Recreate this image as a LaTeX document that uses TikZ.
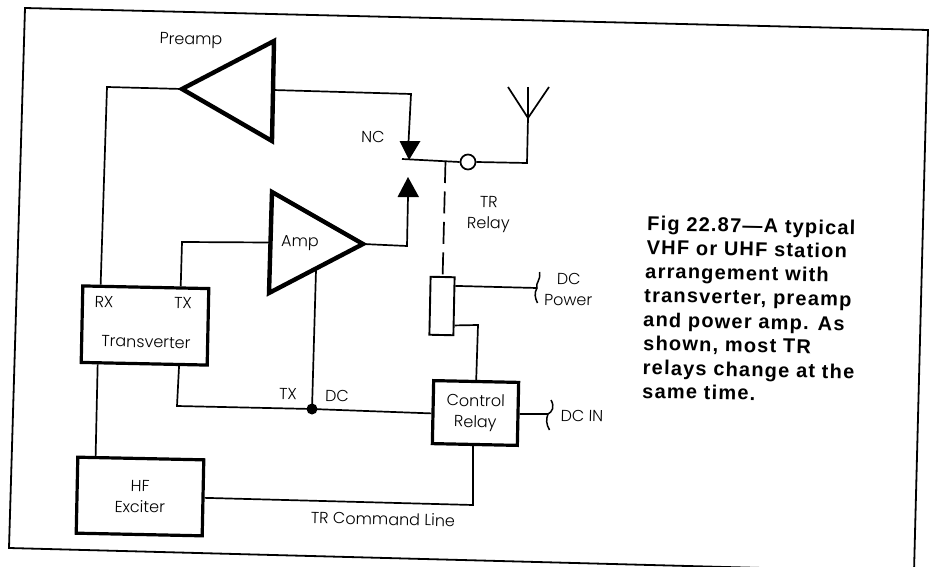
\documentclass[tikz,border=0pt]{standalone}
\usepackage{fontspec}
\usetikzlibrary{calc}
\setmainfont[UprightFont=* Light]{Poppins}
\newfontfamily\capfont[LetterSpace=6]{Liberation Sans Bold}
\tikzset{
  thinline/.style={line width=1.7pt,line join=miter},
  box/.style={draw=black,line width=3.2pt,rectangle,inner sep=0pt,align=center,rotate=-1.2,font=\fontsize{16}{21}\selectfont},
  relaybox/.style={draw=black,line width=1.9pt,rectangle,inner sep=0pt,rotate=-1.2},
  amptri/.style={draw=black,line width=4.4pt,line join=miter,miter limit=6},
  arrowhead/.style={fill=black,draw=none},
  lab/.style={inner sep=0pt,align=center,rotate=-1.2,font=\fontsize{16}{21}\selectfont},
  capline/.style={inner sep=0pt,anchor=base west,rotate=-1.2,font=\capfont\fontsize{20}{24}\selectfont},
  brace/.style={line width=1.5pt},
  frameline/.style={line width=1.8pt,line join=miter}
}
\begin{document}
\begin{tikzpicture}[x=1pt,y=-1pt]
\useasboundingbox (0,0) rectangle (931,567);
% frame
\coordinate (fTL) at (25,8);
\coordinate (fTR) at (928,30);
\coordinate (fBR) at (914,572);
\coordinate (fBL) at (9,548);
\draw[frameline] (fBR) -- (fTR) -- (fTL) -- (fBL) -- (fBR);

% boxes
\node[box,minimum width=126pt,minimum height=76.5pt] (tv) at (145,325.5) {};
\node[box,minimum width=126pt,minimum height=76pt] (hf) at (140,496.5) {HF\\Exciter};
\node[box,minimum width=85pt,minimum height=63pt] (cr) at (475.5,413) {Control\\Relay};
\node[relaybox,minimum width=24pt,minimum height=58pt] (tr) at (442,306) {};

% triangles
\coordinate (paT) at (182,89);
\coordinate (paU) at (274,41);
\coordinate (paL) at (272,141);
\draw[amptri] (paT) -- (paU) -- (paL) -- cycle;
\coordinate (amT) at (363,244);
\coordinate (amU) at (272,192);
\coordinate (amL) at (269,293);
\draw[amptri] (amT) -- (amU) -- (amL) -- cycle;

% relay contacts
\coordinate (nT) at (409,160);
\coordinate (nL) at (399.5,141);
\coordinate (nR) at (420.5,141);
\fill[arrowhead] (nT) -- (nL) -- (nR) -- cycle;
\coordinate (oT) at (408,177);
\coordinate (oL) at (397.5,197);
\coordinate (oR) at (419,197);
\fill[arrowhead] (oT) -- (oL) -- (oR) -- cycle;
\node[circle,draw=black,line width=1.7pt,fill=white,minimum size=15pt,inner sep=0pt] (pivot) at (468,162) {};

% preamp connectors
\coordinate (a1) at (107,87);
\coordinate (a2) at ($(tv.north west)!.15!(tv.north east)$);
\draw[thinline] (paT) -- (a1) -- (a2);
\coordinate (b1) at ($(paU)!.49!(paL)$);
\coordinate (b2) at (411,94);
\coordinate (b3) at (408.5,142);
\draw[thinline] (b1) -- (b2) -- (b3);
% contact and antenna
\coordinate (c0) at (402,159);
\coordinate (c1) at (445.5,161);
\draw[thinline] (c0) -- (pivot.west);
\coordinate (c2) at (527,163);
\coordinate (ant) at (528,118);
\draw[thinline] (pivot.east) -- (c2) -- (ant);
\coordinate (ant1) at (508,87);
\coordinate (ant2) at (528,87);
\coordinate (ant3) at (549,87);
\draw[thinline] (ant1) -- (ant) -- (ant3);
\draw[thinline] (ant2) -- (ant);
% dashed mechanical link
\draw[thinline,dash pattern=on 22pt off 8.5pt] (c1) -- (tr.north);
% amp connectors
\coordinate (d1) at (407,246);
\coordinate (d2) at (408,196);
\draw[thinline] (amT) -- (d1) -- (d2);
\coordinate (e1) at ($(amU)!.5!(amL)$);
\coordinate (e2) at (182,242);
\coordinate (e3) at ($(tv.north west)!.77!(tv.north east)$);
\draw[thinline] (e1) -- (e2) -- (e3);
% transverter connectors
\coordinate (f1) at ($(tv.south west)!.14!(tv.south east)$);
\coordinate (f2) at ($(hf.north west)!.15!(hf.north east)$);
\draw[thinline] (f1) -- (f2);
\coordinate (g1) at ($(tv.south west)!.77!(tv.south east)$);
\coordinate (g2) at (177,406);
\node[circle,fill=black,minimum size=11pt,inner sep=0pt] (dot) at (312,409) {};
\coordinate (g3) at ($(cr.north west)!.52!(cr.south west)$);
\draw[thinline] (g1) -- (g2) -- (dot.center) -- (g3);
\coordinate (h1) at (316,270);
\draw[thinline] (h1) -- (dot.center);
% control relay connectors
\coordinate (i1) at ($(cr.north west)!.5!(cr.north east)$);
\coordinate (i2) at (478,325);
\coordinate (i3) at ($(tr.north east)!.82!(tr.south east)$);
\draw[thinline] (i1) -- (i2) -- (i3);
\coordinate (j1) at ($(cr.south west)!.48!(cr.south east)$);
\coordinate (j2) at (473,505);
\coordinate (j3) at ($(hf.north east)!.5!(hf.south east)$);
\draw[thinline] (j1) -- (j2) -- (j3);
% DC power
\coordinate (k1) at ($(tr.north east)!.16!(tr.south east)$);
\coordinate (k2) at (537,288);
\draw[thinline] (k1) -- (k2);
\coordinate (k3) at (539.5,272);
\coordinate (k4) at (537.5,303);
\draw[brace] (k3) .. controls (541,281) and (535,283) .. (k2) .. controls (534,293) and (535,298) .. (k4);
% DC in
\coordinate (m1) at ($(cr.north east)!.5!(cr.south east)$);
\coordinate (m2) at (548,414);
\draw[thinline] (m1) -- (m2);
\coordinate (m3) at (551,400);
\coordinate (m4) at (549.5,430);
\draw[brace] (m3) .. controls (555,407) and (552,412) .. (m2) .. controls (546,419) and (546,424) .. (m4);

% labels
\node[lab] (lpre) at (191,41) {Preamp};
\node[lab] (lnc) at (373,137) {NC};
\node[lab] (ltr) at (488.5,214.5) {TR\\Relay};
\node[lab] (lamp) at (300,243) {Amp};
\node[lab] (lrx) at (104,302) {RX};
\node[lab] (ltx) at (183,303) {TX};
\node[lab] (ltv) at (146,342) {Transverter};
\node[lab] (ltx2) at (288,394) {TX};
\node[lab] (ldc) at (337,396) {DC};
\node[lab] (lpow) at (568.5,289.5) {DC\\Power};
\node[lab] (ldcin) at (582,416) {DC IN};
\node[lab] (lcmd) at (383,519) {TR Command Line};

% caption
\node[capline] (cap1) at (647,230.5) {Fig 22.87—A typical};
\node[capline] (cap2) at (646.5,254) {VHF or UHF station};
\node[capline] (cap3) at (645,278) {arrangement with};
\node[capline] (cap4) at (644,302) {transverter, preamp};
\node[capline] (cap5) at (643,326.5) {and power amp. As};
\node[capline] (cap6) at (643,350) {shown, most TR};
\node[capline] (cap7) at (642.5,374.5) {relays change at the};
\node[capline] (cap8) at (642,398) {same time.};
\end{tikzpicture}
\end{document}
